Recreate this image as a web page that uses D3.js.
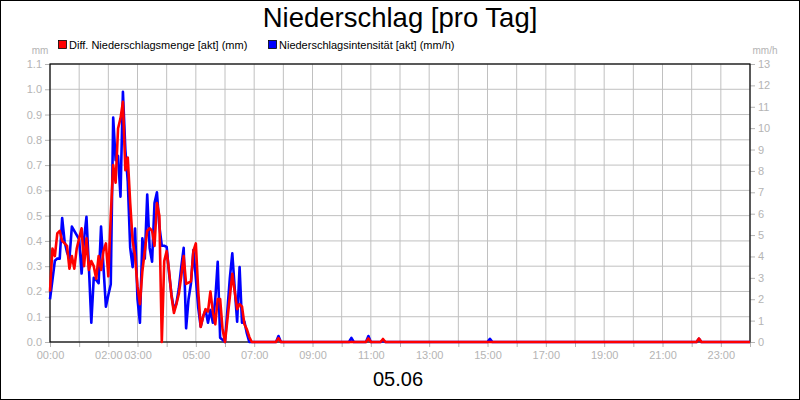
<!DOCTYPE html>
<html>
<head>
<meta charset="utf-8">
<script src="https://cdn.jsdelivr.net/npm/d3@7"></script>
<style>
body { margin: 0; background: #fff; }
svg { display: block; font-family: Arial, "Liberation Sans", sans-serif; }
</style>
</head>
<body>
<div id="chart"></div>
<script>
// Zeitpunkte (5-Minuten-Werte, danach nur noch die kleinen Ausschläge)
var times = [
  '00:00','00:05','00:10','00:15','00:20','00:25','00:30','00:35','00:40','00:45','00:50','00:55',
  '01:00','01:05','01:10','01:15','01:20','01:25','01:30','01:35','01:40','01:45','01:50','01:55',
  '02:00','02:05','02:10','02:15','02:20','02:25','02:30','02:35','02:40','02:45','02:50','02:55',
  '03:00','03:05','03:10','03:15','03:20','03:25','03:30','03:35','03:40','03:45','03:50','03:55',
  '04:00','04:05','04:10','04:15','04:20','04:25','04:30','04:35','04:40','04:45','04:50','04:55',
  '05:00','05:05','05:10','05:15','05:20','05:25','05:30','05:35','05:40','05:45','05:50','05:55',
  '06:00','06:05','06:10','06:15','06:20','06:25','06:30','06:35','06:40','06:45','06:50','06:55',
  '07:00',
  '07:45','07:50','07:55','10:15','10:20','10:25','10:50','10:55','11:00','11:20','11:25','11:30',
  '15:00','15:05','15:10','22:10','22:15','22:20','24:00'
];

// Diff. Niederschlagsmenge [mm]
var menge = [
  0.2,0.37,0.34,0.43,0.44,0.40,0.39,0.38,0.29,0.34,0.29,0.37,
  0.41,0.45,0.30,0.41,0.285,0.32,0.30,0.25,0.34,0.285,0.36,0.39,
  0.26,0.5,0.70,0.63,0.845,0.885,0.95,0.68,0.73,0.55,0.40,0.34,
  0.22,0.15,0.28,0.36,0.44,0.45,0.44,0.38,0.55,0.50,0.0,0.32,
  0.36,0.28,0.18,0.115,0.15,0.19,0.26,0.34,0.23,0.235,0.24,0.36,
  0.39,0.2,0.06,0.10,0.13,0.12,0.20,0.12,0.07,0.17,0.17,0.05,
  0,0.09,0.18,0.27,0.20,0.13,0.15,0.14,0.07,0.05,0.02,0,
  0,
  0,0.015,0, 0,0,0, 0,0.014,0, 0,0.012,0,
  0,0,0, 0,0.014,0, 0
];

// Niederschlagsintensität [mm/h]
var intens = [
  2.0,2.9,3.8,3.9,3.9,5.8,4.7,4.2,3.9,5.4,5.2,5.0,
  4.8,3.2,4.8,5.85,3.5,0.9,3.0,2.9,2.75,5.4,3.5,1.65,
  2.2,2.7,10.5,8.5,8.7,6.8,11.7,9.0,7.5,4.4,3.5,5.3,
  2.0,0.9,4.85,3.9,6.9,4.4,3.75,6.5,7.0,5.4,4.5,4.5,
  4.45,3.2,2.2,1.5,1.8,2.5,3.5,4.4,0.64,2.0,2.75,4.3,
  3.0,1.6,0.72,1.2,1.5,0.9,1.5,0.9,2.0,3.75,0.2,0.1,
  0,1.5,3.0,4.15,2.5,0.95,3.5,0.9,0.95,0.4,0,0,
  0,
  0,0.28,0, 0,0.19,0, 0,0.28,0, 0,0.05,0,
  0,0.15,0, 0,0.15,0, 0
];

var hourLabels = ['00:00','02:00','03:00','05:00','07:00','09:00','11:00','13:00','15:00','17:00','19:00','21:00','23:00'];
var ticksMm = [0,0.1,0.2,0.3,0.4,0.5,0.6,0.7,0.8,0.9,1.0,1.1];
var ticksMmh = [0,1,2,3,4,5,6,7,8,9,10,11,12,13];
var legendNames = ['Diff. Niederschlagsmenge [akt] (mm)', 'Niederschlagsintensität [akt] (mm/h)'];

const width = 800;
const height = 400;
const plotL = 50, plotR = 750, plotT = 64, plotB = 342;
const gray = '#b4b4b4';

function toMin(s) {
  var p = s.split(':');
  return +p[0] * 60 + +p[1];
}

const svg = d3.select('#chart')
  .append('svg')
  .attr('width', width)
  .attr('height', height);

svg.append('rect')
  .attr('x', 0.5).attr('y', 0.5)
  .attr('width', width - 1).attr('height', height - 1)
  .attr('fill', '#fff').attr('stroke', '#000');

var x = d3.scaleLinear().domain([0, 1440]).range([plotL, plotR]);
var yMm = d3.scaleLinear().domain([0, 1.1]).range([plotB, plotT]);
var yMmh = d3.scaleLinear().domain([0, 13]).range([plotB, plotT]);

var hours = d3.range(0, 1441, 60);

// Gitter
svg.append('g').selectAll('line')
  .data(hours)
  .enter().append('line')
  .attr('x1', d => x(d)).attr('x2', d => x(d))
  .attr('y1', plotT).attr('y2', plotB)
  .attr('stroke', '#c0c0c0').attr('stroke-width', 1);

svg.append('g').selectAll('line')
  .data(ticksMm)
  .enter().append('line')
  .attr('x1', plotL).attr('x2', plotR)
  .attr('y1', d => yMm(d)).attr('y2', d => yMm(d))
  .attr('stroke', '#c0c0c0').attr('stroke-width', 1);

// Achsen
function styleAxis(g) {
  g.selectAll('.tick line').attr('stroke', gray);
  g.selectAll('.tick text').attr('fill', gray).attr('font-size', 11)
    .attr('font-family', 'Arial, "Liberation Sans", sans-serif');
  g.select('.domain').remove();
}

svg.append('g')
  .attr('transform', 'translate(0,' + plotB + ')')
  .call(d3.axisBottom(x).tickValues(hours).tickSize(5).tickPadding(4)
    .tickFormat(function (d) {
      var lab = d3.format('02d')(Math.floor(d / 60)) + ':00';
      return hourLabels.indexOf(lab) >= 0 ? lab : '';
    }))
  .call(styleAxis);

svg.append('g')
  .attr('transform', 'translate(' + plotL + ',0)')
  .call(d3.axisLeft(yMm).tickValues(ticksMm).tickSize(5).tickPadding(3).tickFormat(d3.format('.1f')))
  .call(styleAxis);

svg.append('g')
  .attr('transform', 'translate(' + plotR + ',0)')
  .call(d3.axisRight(yMmh).tickValues(ticksMmh).tickSize(5).tickPadding(3).tickFormat(d3.format('d')))
  .call(styleAxis);

svg.append('text').text('mm')
  .attr('x', 40).attr('y', 54).attr('text-anchor', 'middle')
  .attr('font-size', 10).attr('fill', gray);
svg.append('text').text('mm/h')
  .attr('x', 765).attr('y', 54).attr('text-anchor', 'middle')
  .attr('font-size', 10).attr('fill', gray);

// Rahmen
svg.append('rect')
  .attr('x', plotL).attr('y', plotT)
  .attr('width', plotR - plotL).attr('height', plotB - plotT)
  .attr('fill', 'none').attr('stroke', '#000').attr('stroke-width', 1.2);

// Linien
var blueData = times.map((t, i) => ({t: toMin(t), v: intens[i]}));
var redData = times.map((t, i) => ({t: toMin(t), v: menge[i]}));

svg.append('path')
  .datum(blueData)
  .attr('fill', 'none').attr('stroke', '#0000ff')
  .attr('stroke-width', 2.6).attr('stroke-linejoin', 'round')
  .attr('d', d3.line().x(d => x(d.t)).y(d => yMmh(d.v)));

svg.append('path')
  .datum(redData)
  .attr('fill', 'none').attr('stroke', '#ff0000')
  .attr('stroke-width', 2.6).attr('stroke-linejoin', 'round')
  .attr('d', d3.line().x(d => x(d.t)).y(d => yMm(d.v)));

// Titel
svg.append('text').text('Niederschlag [pro Tag]')
  .attr('x', 400).attr('y', 27).attr('text-anchor', 'middle')
  .attr('font-size', 27.5).attr('fill', '#000');

svg.append('text').text('05.06')
  .attr('x', 398).attr('y', 386).attr('text-anchor', 'middle')
  .attr('font-size', 20).attr('fill', '#000');

// Legende
var legX = [58, 268];
var legCol = ['#ff0000', '#0000ff'];
var leg = svg.append('g').selectAll('g')
  .data(legendNames)
  .enter().append('g')
  .attr('transform', (d, i) => 'translate(' + legX[i] + ',40)');
leg.append('rect')
  .attr('x', 0.5).attr('y', 0.5).attr('width', 8).attr('height', 8)
  .attr('fill', (d, i) => legCol[i]).attr('stroke', '#000').attr('stroke-width', 0.8);
leg.append('text').text(d => d)
  .attr('x', 11).attr('y', 8.5)
  .attr('font-size', 11).attr('fill', '#000');
</script>
</body>
</html>
